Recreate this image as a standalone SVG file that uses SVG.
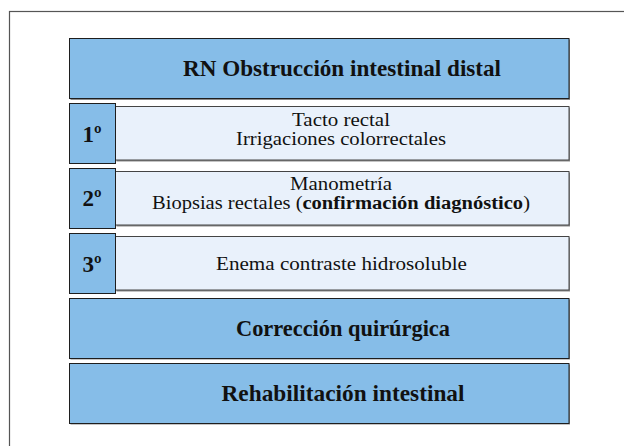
<svg xmlns="http://www.w3.org/2000/svg" width="624" height="446" viewBox="0 0 624 446">
<defs>
<style>
.frame{fill:none;stroke:#555;stroke-width:1.2}
.blue{fill:#86BDE8;stroke:#1e1e1e;stroke-width:1}
.light{fill:#E9F1FB;stroke:#444;stroke-width:1}
.sh{fill:#8a8a8a}
.t{font-family:"Liberation Serif","Times New Roman",serif;fill:#111;text-anchor:middle}
.big{font-size:23px;font-weight:bold}
.num{font-size:23px;font-weight:bold}
.norm{font-size:18px}
.b{font-weight:bold}
</style>
</defs>
<rect class="frame" x="9.5" y="11.5" width="700" height="500"/>
<g id="title">
<rect class="sh" x="70.5" y="39.5" width="499.5" height="60.5"/>
<rect class="blue" x="69.5" y="38.5" width="499.5" height="60"/>
<text class="t big" x="342" y="76" textLength="318" lengthAdjust="spacingAndGlyphs">RN Obstrucción intestinal distal</text>
</g>
<g id="step1">
<rect class="sh" x="116.5" y="107.5" width="453.5" height="54"/>
<rect class="light" x="115.5" y="106.5" width="453.5" height="53.5"/>
<rect class="blue" x="69.5" y="103.5" width="46" height="60"/>
<text class="t num" x="92" y="141.5">1º</text>
<text class="t norm" x="341" y="125.5" textLength="98" lengthAdjust="spacingAndGlyphs">Tacto rectal</text>
<text class="t norm" x="341" y="145" textLength="210" lengthAdjust="spacingAndGlyphs">Irrigaciones colorrectales</text>
</g>
<g id="step2">
<rect class="sh" x="116.5" y="172.5" width="453.5" height="54"/>
<rect class="light" x="115.5" y="171.5" width="453.5" height="53.5"/>
<rect class="blue" x="69.5" y="168.5" width="46" height="60"/>
<text class="t num" x="92" y="206">2º</text>
<text class="t norm" x="341" y="189.5" textLength="102" lengthAdjust="spacingAndGlyphs">Manometría</text>
<text class="t norm" x="341" y="209" textLength="378" lengthAdjust="spacingAndGlyphs">Biopsias rectales (<tspan class="b">confirmación diagnóstico</tspan>)</text>
</g>
<g id="step3">
<rect class="sh" x="116.5" y="237.5" width="453.5" height="54"/>
<rect class="light" x="115.5" y="236.5" width="453.5" height="53.5"/>
<rect class="blue" x="69.5" y="233.5" width="46" height="60"/>
<text class="t num" x="92" y="271.5">3º</text>
<text class="t norm" x="341.5" y="270" textLength="251" lengthAdjust="spacingAndGlyphs">Enema contraste hidrosoluble</text>
</g>
<g id="correccion">
<rect class="sh" x="70.5" y="299.5" width="499.5" height="60"/>
<rect class="blue" x="69.5" y="298.5" width="499.5" height="60"/>
<text class="t big" x="343" y="336" textLength="214" lengthAdjust="spacingAndGlyphs">Corrección quirúrgica</text>
</g>
<g id="rehabilitacion">
<rect class="sh" x="70.5" y="364.5" width="499.5" height="60"/>
<rect class="blue" x="69.5" y="363.5" width="499.5" height="60"/>
<text class="t big" x="343" y="401" textLength="243" lengthAdjust="spacingAndGlyphs">Rehabilitación intestinal</text>
</g>
<g id="connectors"/>
</svg>
